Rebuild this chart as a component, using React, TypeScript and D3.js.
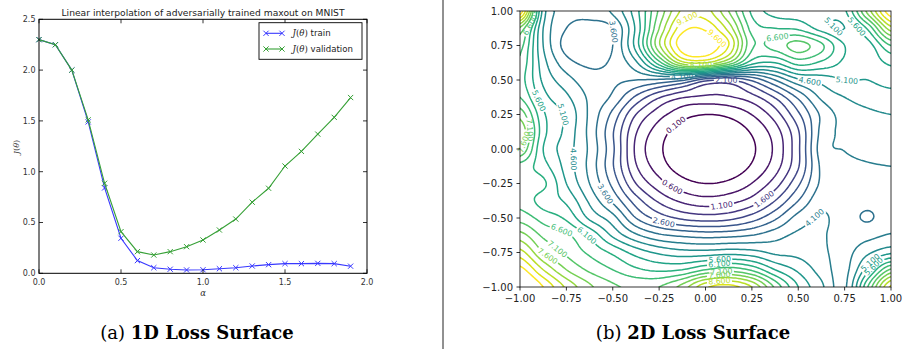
import React from "react";
import * as d3 from "d3";

// ---------- Left chart data (1D loss surface) ----------
const alphaValues = [0, 0.1, 0.2, 0.3, 0.4, 0.5, 0.6, 0.7, 0.8, 0.9, 1.0, 1.1, 1.2, 1.3, 1.4, 1.5, 1.6, 1.7, 1.8, 1.9];
const trainLoss = [2.3, 2.25, 2.0, 1.49, 0.84, 0.345, 0.125, 0.055, 0.04, 0.033, 0.035, 0.045, 0.055, 0.072, 0.085, 0.095, 0.095, 0.098, 0.095, 0.07];
const validationLoss = [2.3, 2.25, 2.0, 1.51, 0.886, 0.41, 0.213, 0.18, 0.213, 0.262, 0.328, 0.426, 0.534, 0.7, 0.837, 1.056, 1.2, 1.37, 1.535, 1.73];
const leftXTicks = [0, 0.5, 1.0, 1.5, 2.0];
const leftYTicks = [0, 0.5, 1.0, 1.5, 2.0, 2.5];
const seriesNames = ["train", "validation"];

// ---------- Right chart data (2D loss surface, read on a 17x17 grid) ----------
const gridX = [-1, -0.875, -0.75, -0.625, -0.5, -0.375, -0.25, -0.125, 0, 0.125, 0.25, 0.375, 0.5, 0.625, 0.75, 0.875, 1];
const gridY = [1, 0.875, 0.75, 0.625, 0.5, 0.375, 0.25, 0.125, 0, -0.125, -0.25, -0.375, -0.5, -0.625, -0.75, -0.875, -1];
const lossRows = [
  [10.0, 4.9, 3.9, 3.8, 4.2, 5.4, 7.2, 8.7, 8.8, 7.6, 6.0, 5.4, 5.3, 5.2, 5.5, 7.8, 10.0],
  [7.5, 4.6, 3.6, 3.4, 3.6, 5.2, 7.6, 9.4, 9.5, 8.4, 6.4, 6.1, 6.0, 5.4, 5.1, 6.2, 8.4],
  [6.8, 4.6, 3.4, 3.2, 3.6, 5.3, 8.0, 9.9, 10.0, 9.1, 6.7, 6.8, 7.3, 6.7, 5.6, 5.4, 6.6],
  [6.5, 4.8, 3.8, 3.5, 3.7, 4.5, 6.4, 8.4, 8.6, 7.5, 5.8, 5.6, 6.3, 6.0, 5.5, 5.3, 5.7],
  [6.3, 5.0, 4.3, 3.8, 3.7, 3.6, 3.5, 3.2, 2.3, 2.1, 2.7, 3.6, 4.5, 4.8, 5.1, 5.1, 5.3],
  [6.6, 5.3, 4.7, 4.0, 3.5, 2.5, 1.65, 1.15, 1.0, 1.05, 1.4, 2.15, 3.2, 4.2, 4.6, 4.8, 4.9],
  [7.4, 5.7, 5.0, 4.0, 2.95, 1.6, 0.8, 0.3, 0.1, 0.21, 0.61, 1.35, 2.5, 3.7, 4.3, 4.5, 4.6],
  [8.0, 5.8, 4.95, 3.95, 2.65, 1.15, 0.35, -0.15, -0.35, -0.24, 0.16, 0.86, 2.05, 3.75, 4.2, 4.35, 4.45],
  [7.6, 5.6, 4.85, 4.0, 2.7, 1.0, 0.2, -0.3, -0.5, -0.39, 0.01, 0.71, 2.0, 3.85, 4.12, 4.25, 4.3],
  [6.4, 5.8, 4.9, 3.95, 2.65, 1.15, 0.35, -0.15, -0.35, -0.24, 0.16, 0.86, 2.05, 3.7, 3.95, 4.05, 4.1],
  [6.3, 6.2, 5.1, 4.1, 2.95, 1.6, 0.8, 0.3, 0.1, 0.21, 0.61, 1.35, 2.5, 3.7, 3.85, 3.85, 3.95],
  [6.4, 5.9, 5.5, 4.5, 3.5, 2.35, 1.5, 1.0, 0.8, 0.92, 1.3, 2.1, 3.1, 3.95, 3.85, 3.75, 3.9],
  [6.9, 6.4, 6.0, 5.0, 4.3, 3.1, 2.4, 2.0, 1.85, 1.95, 2.35, 3.0, 3.8, 4.15, 3.85, 3.55, 3.9],
  [7.8, 7.0, 6.7, 6.0, 5.0, 4.2, 3.7, 3.5, 3.4, 3.45, 3.6, 3.9, 4.2, 4.15, 3.9, 3.95, 4.15],
  [8.8, 7.6, 7.0, 6.5, 6.0, 5.4, 5.0, 4.8, 4.8, 4.9, 4.8, 4.5, 4.45, 4.2, 3.95, 4.5, 5.0],
  [9.8, 8.6, 7.6, 7.0, 6.6, 6.2, 6.0, 6.1, 6.6, 6.9, 6.5, 5.6, 5.0, 4.4, 3.95, 5.4, 7.2],
  [10.6, 9.6, 8.5, 7.7, 7.2, 7.0, 7.1, 7.8, 9.0, 9.3, 8.6, 7.0, 5.6, 4.7, 4.0, 6.6, 9.2],
];
const contourLevels = [0.1, 0.6, 1.1, 1.6, 2.1, 2.6, 3.1, 3.6, 4.1, 4.6, 5.1, 5.6, 6.1, 6.6, 7.1, 7.6, 8.1, 8.6, 9.1, 9.6];
const rightTicks = [-1, -0.75, -0.5, -0.25, 0, 0.25, 0.5, 0.75, 1];

// contour labels: level and approximate spot where it is written
const labelLevels = [3.6, 9.1, 9.6, 6.6, 5.1, 2.1, 4.6, 5.1, 5.6, 5.1, 0.1, 7.1, 7.6, 4.6, 3.6, 0.6, 2.6, 1.1, 1.6, 4.1, 6.6, 6.1, 7.1, 7.6, 5.6, 6.1, 7.1, 7.6, 8.6, 5.1, 5.6, 4.1, 8.1, 6.6, 5.6];
const labelX = [-0.53, -0.08, 0.05, 0.4, 0.645, 0.11, 0.56, 0.76, -0.92, -0.77, -0.155, -0.985, -0.985, -0.69, -0.55, -0.21, -0.23, 0.087, 0.276, 0.51, -0.757, -0.68, -0.856, -0.9, 0.08, 0.08, 0.08, 0.08, 0.08, 0.86, 0.9, -0.12, -0.02, -0.95, 0.9];
const labelY = [0.85, 0.91, 0.8, 0.78, 0.85, 0.505, 0.49, 0.476, 0.34, 0.25, 0.174, 0.14, 0.05, -0.07, -0.33, -0.31, -0.56, -0.43, -0.32, -0.42, -0.57, -0.66, -0.79, -0.83, -0.8, -0.84, -0.88, -0.92, -0.96, -0.79, -0.84, 0.52, 0.62, 0.9, 0.95];

const captions = [
  { pre: "(a) ", bold: "1D Loss Surface" },
  { pre: "(b) ", bold: "2D Loss Surface" },
];

function catmull(p0: number, p1: number, p2: number, p3: number, t: number) {
  const t2 = t * t, t3 = t2 * t;
  return 0.5 * (2 * p1 + (-p0 + p2) * t + (2 * p0 - 5 * p1 + 4 * p2 - p3) * t2 + (-p0 + 3 * p1 - 3 * p2 + p3) * t3);
}

// smooth rendering of the read grid (cubic rendering between grid readings)
function smoothField(rows: number[][], f: number) {
  const R = rows.length, C = rows[0].length;
  const m = (R - 1) * f + 1, n = (C - 1) * f + 1;
  const get = (r: number, c: number) => rows[Math.max(0, Math.min(R - 1, r))][Math.max(0, Math.min(C - 1, c))];
  const out = new Array(n * m);
  for (let a = 0; a < m; a++) {
    const u = a / f;
    const i = Math.min(Math.floor(u), R - 2);
    const t = u - i;
    for (let b = 0; b < n; b++) {
      const v = b / f;
      const j = Math.min(Math.floor(v), C - 2);
      const s = v - j;
      const colVals = [-1, 0, 1, 2].map((di) =>
        catmull(get(i + di, j - 1), get(i + di, j), get(i + di, j + 1), get(i + di, j + 2), s)
      );
      out[a * n + b] = catmull(colVals[0], colVals[1], colVals[2], colVals[3], t);
    }
  }
  return { values: out, n, m };
}

export default function App() {
  const W = 903, H = 349;

  // ----- left -----
  const xL = d3.scaleLinear().domain([0, 2]).range([39, 367]);
  const yL = d3.scaleLinear().domain([0, 2.5]).range([273.3, 19.3]);
  const lineGen = d3.line<number>().x((_, i) => xL(alphaValues[i])).y((d) => yL(d));
  const seriesData = [trainLoss, validationLoss];
  const seriesColors = ["#3838ff", "#36a036"];

  const marker = (cx: number, cy: number, color: string, key: string) => (
    <path key={key} d={`M${cx - 2.6},${cy - 2.6}L${cx + 2.6},${cy + 2.6}M${cx - 2.6},${cy + 2.6}L${cx + 2.6},${cy - 2.6}`} stroke={color} strokeWidth={1} fill="none" />
  );

  // ----- right -----
  const xR = d3.scaleLinear().domain([-1, 1]).range([520, 891]);
  const yR = d3.scaleLinear().domain([-1, 1]).range([287, 11]);
  const F = 10;
  const { values, n, m } = smoothField(lossRows, F);
  const x0 = gridX[0], x1 = gridX[gridX.length - 1];
  const y0 = gridY[0], y1 = gridY[gridY.length - 1];
  const toData = (cx: number, cy: number): [number, number] => [
    x0 + ((cx - 0.5) / (n - 1)) * (x1 - x0),
    y0 + ((cy - 0.5) / (m - 1)) * (y1 - y0),
  ];
  const contours = d3.contours().size([n, m]).thresholds(contourLevels)(values);
  const geoPath = d3.geoPath(
    d3.geoTransform({
      point(this: any, x: number, y: number) {
        const [dx, dy] = toData(x, y);
        this.stream.point(xR(dx), yR(dy));
      },
    })
  );
  const color = (lv: number) => d3.interpolateViridis((lv - contourLevels[0]) / (contourLevels[contourLevels.length - 1] - contourLevels[0]));

  // label placement
  type Lab = { lv: number; px: number; py: number; ang: number };
  const labels: Lab[] = [];
  labelLevels.forEach((lv, k) => {
    const c = contours.find((cc) => Math.abs(cc.value - lv) < 1e-6);
    if (!c) return;
    let best = Infinity, bestRing: number[][] | null = null, bestIdx = -1;
    c.coordinates.forEach((poly) =>
      poly.forEach((ring) => {
        ring.forEach((p, idx) => {
          const [dx, dy] = toData(p[0], p[1]);
          if (dx < -0.999 || dx > 0.999 || dy < -0.999 || dy > 0.999) return;
          const d = Math.hypot(dx - labelX[k], dy - labelY[k]);
          if (d < best) { best = d; bestRing = ring as number[][]; bestIdx = idx; }
        });
      })
    );
    if (!bestRing || best > 0.14) return;
    const ring = bestRing as number[][];
    const L = ring.length;
    const pa = ring[(bestIdx - 2 + L) % L], pb = ring[(bestIdx + 2) % L], pc = ring[bestIdx];
    const [ax, ay] = toData(pa[0], pa[1]);
    const [bx, by] = toData(pb[0], pb[1]);
    const [cx, cy] = toData(pc[0], pc[1]);
    let ang = (Math.atan2(yR(by) - yR(ay), xR(bx) - xR(ax)) * 180) / Math.PI;
    if (ang > 90) ang -= 180;
    if (ang < -90) ang += 180;
    labels.push({ lv, px: xR(cx), py: yR(cy), ang });
  });

  const fmt = (v: number) => (v < 0 ? "\u2212" : "") + Math.abs(v).toFixed(2);

  return (
    <svg width={W} height={H} style={{ position: "absolute", left: 0, top: 0, background: "#fff" }} xmlns="http://www.w3.org/2000/svg">
      <rect x={0} y={0} width={W} height={H} fill="#fff" />
      <defs>
        <clipPath id="plotR">
          <rect x={520} y={11} width={371} height={276} />
        </clipPath>
        {contourLevels.map((lv, i) => (
          <mask id={`mk${i}`} key={i} maskUnits="userSpaceOnUse" x={0} y={0} width={W} height={H}>
            <rect x={0} y={0} width={W} height={H} fill="#fff" />
            {labels.filter((l) => Math.abs(l.lv - lv) < 1e-6).map((l, j) => (
              <rect key={j} x={-12.5} y={-4} width={25} height={8} fill="#000" transform={`translate(${l.px},${l.py}) rotate(${l.ang})`} />
            ))}
          </mask>
        ))}
      </defs>

      {/* ================= LEFT CHART ================= */}
      <g fontFamily="DejaVu Sans, sans-serif">
        <text x={203} y={15.5} fontSize={8.6} textAnchor="middle" fill="#222" textLength={283} lengthAdjust="spacingAndGlyphs">
          Linear interpolation of adversarially trained maxout on MNIST
        </text>
        {seriesData.map((s, si) => (
          <g key={si}>
            <path d={lineGen(s) || ""} fill="none" stroke={seriesColors[si]} strokeWidth={1.1} />
            {s.map((v, i) => marker(xL(alphaValues[i]), yL(v), seriesColors[si], `m${si}-${i}`))}
          </g>
        ))}
        <rect x={39} y={19.3} width={328} height={254} fill="none" stroke="#000" strokeWidth={1} />
        {leftXTicks.map((t) => (
          <g key={`xt${t}`}>
            <line x1={xL(t)} x2={xL(t)} y1={273.3} y2={269.3} stroke="#000" strokeWidth={0.8} />
            <line x1={xL(t)} x2={xL(t)} y1={19.3} y2={23.3} stroke="#000" strokeWidth={0.8} />
            <text x={xL(t)} y={284.5} fontSize={8} textAnchor="middle" fill="#333">{t.toFixed(1)}</text>
          </g>
        ))}
        {leftYTicks.map((t) => (
          <g key={`yt${t}`}>
            <line x1={39} x2={43} y1={yL(t)} y2={yL(t)} stroke="#000" strokeWidth={0.8} />
            <line x1={367} x2={363} y1={yL(t)} y2={yL(t)} stroke="#000" strokeWidth={0.8} />
            <text x={35.5} y={yL(t) + 2.8} fontSize={8} textAnchor="end" fill="#333">{t.toFixed(1)}</text>
          </g>
        ))}
        <text x={203} y={296} fontSize={8.5} textAnchor="middle" fontStyle="italic" fontFamily="DejaVu Serif, serif" fill="#333">α</text>
        <text transform="translate(19,147) rotate(-90)" fontSize={8} textAnchor="middle" fontFamily="DejaVu Serif, serif" fill="#333">
          <tspan fontStyle="italic">J</tspan>(<tspan fontStyle="italic">θ</tspan>)
        </text>
        {/* legend */}
        <rect x={259} y={22.7} width={103} height={36.6} fill="#fff" stroke="#000" strokeWidth={0.9} />
        {seriesNames.map((nm, i) => {
          const ly = 33.3 + i * 15.7;
          return (
            <g key={nm}>
              <line x1={266} x2={282} y1={ly} y2={ly} stroke={seriesColors[i]} strokeWidth={1.1} />
              {marker(266, ly, seriesColors[i], `lg${i}a`)}
              {marker(282, ly, seriesColors[i], `lg${i}b`)}
              <text x={292.5} y={ly + 3} fontSize={8.6} fill="#222">
                <tspan fontFamily="DejaVu Serif, serif" fontStyle="italic">J</tspan>
                <tspan fontFamily="DejaVu Serif, serif">(</tspan>
                <tspan fontFamily="DejaVu Serif, serif" fontStyle="italic">θ</tspan>
                <tspan fontFamily="DejaVu Serif, serif">)</tspan>
                {" " + nm}
              </text>
            </g>
          );
        })}
      </g>

      {/* divider */}
      <line x1={443} x2={443} y1={0} y2={H} stroke="#222" strokeWidth={1} />

      {/* ================= RIGHT CHART ================= */}
      <g clipPath="url(#plotR)">
        {contours.map((c, i) => (
          <path key={i} d={geoPath(c as any) || ""} fill="none" stroke={color(c.value)} strokeWidth={1.5} strokeLinejoin="round" mask={`url(#mk${contourLevels.indexOf(c.value)})`} />
        ))}
      </g>
      <g fontFamily="DejaVu Sans, sans-serif">
        {labels.map((l, i) => (
          <text key={i} transform={`translate(${l.px},${l.py}) rotate(${l.ang})`} fontSize={7.8} textAnchor="middle" dy="2.8" fill={color(l.lv)}>
            {l.lv.toFixed(3)}
          </text>
        ))}
        <rect x={520} y={11} width={371} height={276} fill="none" stroke="#000" strokeWidth={0.8} />
        {rightTicks.map((t) => (
          <g key={`rx${t}`}>
            <line x1={xR(t)} x2={xR(t)} y1={287} y2={290.5} stroke="#000" strokeWidth={0.8} />
            <text x={xR(t)} y={301.5} fontSize={10} textAnchor="middle" fill="#222">{fmt(t)}</text>
            <line x1={520} x2={516.5} y1={yR(t)} y2={yR(t)} stroke="#000" strokeWidth={0.8} />
            <text x={513} y={yR(t) + 3.6} fontSize={10} textAnchor="end" fill="#222">{fmt(t)}</text>
          </g>
        ))}
      </g>

      {/* captions */}
      {captions.map((c, i) => (
        <text key={i} x={i === 0 ? 197 : 693} y={339} fontSize={18} textAnchor="middle" fontFamily="DejaVu Serif, serif" fill="#000">
          {c.pre}
          <tspan fontWeight="bold">{c.bold}</tspan>
        </text>
      ))}
    </svg>
  );
}
